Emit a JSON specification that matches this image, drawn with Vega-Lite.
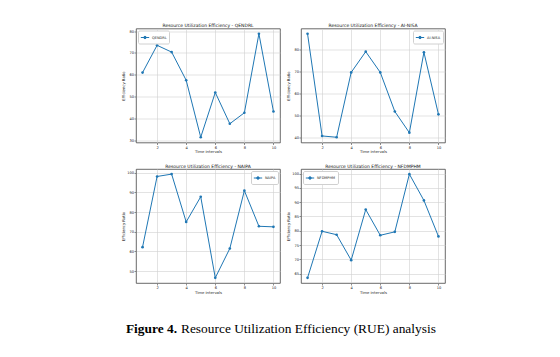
{
  "$schema": "https://vega.github.io/schema/vega-lite/v6.json",
  "background": "white",
  "padding": {"left": 120, "top": 22.5, "right": 5, "bottom": 5},
  "data": {"values": [
    {"method": "QENDRL", "t": 1, "v": 61.0}, {"method": "QENDRL", "t": 2, "v": 73.5}, {"method": "QENDRL", "t": 3, "v": 70.4},
    {"method": "QENDRL", "t": 4, "v": 57.5}, {"method": "QENDRL", "t": 5, "v": 31.4}, {"method": "QENDRL", "t": 6, "v": 51.9},
    {"method": "QENDRL", "t": 7, "v": 37.6}, {"method": "QENDRL", "t": 8, "v": 42.6}, {"method": "QENDRL", "t": 9, "v": 78.8},
    {"method": "QENDRL", "t": 10, "v": 43.2},
    {"method": "AI-NISA", "t": 1, "v": 87.4}, {"method": "AI-NISA", "t": 2, "v": 40.6}, {"method": "AI-NISA", "t": 3, "v": 40.0},
    {"method": "AI-NISA", "t": 4, "v": 69.7}, {"method": "AI-NISA", "t": 5, "v": 79.2}, {"method": "AI-NISA", "t": 6, "v": 69.7},
    {"method": "AI-NISA", "t": 7, "v": 51.8}, {"method": "AI-NISA", "t": 8, "v": 42.1}, {"method": "AI-NISA", "t": 9, "v": 78.9},
    {"method": "AI-NISA", "t": 10, "v": 50.5},
    {"method": "NAIPA", "t": 1, "v": 62.2}, {"method": "NAIPA", "t": 2, "v": 98.1}, {"method": "NAIPA", "t": 3, "v": 99.3},
    {"method": "NAIPA", "t": 4, "v": 75.0}, {"method": "NAIPA", "t": 5, "v": 87.8}, {"method": "NAIPA", "t": 6, "v": 46.6},
    {"method": "NAIPA", "t": 7, "v": 61.5}, {"method": "NAIPA", "t": 8, "v": 90.9}, {"method": "NAIPA", "t": 9, "v": 72.8},
    {"method": "NAIPA", "t": 10, "v": 72.5},
    {"method": "NFDMPHM", "t": 1, "v": 63.5}, {"method": "NFDMPHM", "t": 2, "v": 79.8}, {"method": "NFDMPHM", "t": 3, "v": 78.6},
    {"method": "NFDMPHM", "t": 4, "v": 69.7}, {"method": "NFDMPHM", "t": 5, "v": 87.4}, {"method": "NFDMPHM", "t": 6, "v": 78.4},
    {"method": "NFDMPHM", "t": 7, "v": 79.6}, {"method": "NFDMPHM", "t": 8, "v": 99.8}, {"method": "NFDMPHM", "t": 9, "v": 90.6},
    {"method": "NFDMPHM", "t": 10, "v": 78.0}
  ]},
  "spacing": 27,
  "vconcat": [
    {
      "columns": 2,
      "spacing": {"row": 8.5, "column": 4},
      "resolve": {"scale": {"color": "independent", "x": "independent", "y": "independent"}, "legend": {"color": "independent"}},
      "concat": [
        {
          "title": "Resource Utilization Efficiency - QENDRL",
          "width": 144, "height": 114,
          "transform": [{"filter": "datum.method === 'QENDRL'"}],
          "mark": {"type": "line", "strokeWidth": 1, "point": {"filled": true, "size": 7}},
          "encoding": {
            "x": {"field": "t", "type": "quantitative", "scale": {"domain": [0.55, 10.45], "nice": false, "zero": false}, "axis": {"values": [2, 4, 6, 8, 10], "title": "Time intervals"}},
            "y": {"field": "v", "type": "quantitative", "scale": {"domain": [29.0, 81.2], "nice": false, "zero": false}, "axis": {"values": [30, 40, 50, 60, 70, 80], "title": "Efficiency Ratio"}},
            "color": {"field": "method", "type": "nominal", "scale": {"range": ["#1f77b4"]}, "legend": {"orient": "top-left", "title": null}}
          }
        },
        {
          "title": "Resource Utilization Efficiency - AI-NISA",
          "width": 144, "height": 114,
          "transform": [{"filter": "datum.method === 'AI-NISA'"}],
          "mark": {"type": "line", "strokeWidth": 1, "point": {"filled": true, "size": 7}},
          "encoding": {
            "x": {"field": "t", "type": "quantitative", "scale": {"domain": [0.55, 10.45], "nice": false, "zero": false}, "axis": {"values": [2, 4, 6, 8, 10], "title": "Time intervals"}},
            "y": {"field": "v", "type": "quantitative", "scale": {"domain": [37.6, 89.8], "nice": false, "zero": false}, "axis": {"values": [40, 50, 60, 70, 80], "title": "Efficiency Ratio"}},
            "color": {"field": "method", "type": "nominal", "scale": {"range": ["#1f77b4"]}, "legend": {"orient": "top-right", "title": null}}
          }
        },
        {
          "title": "Resource Utilization Efficiency - NAIPA",
          "width": 144, "height": 114,
          "transform": [{"filter": "datum.method === 'NAIPA'"}],
          "mark": {"type": "line", "strokeWidth": 1, "point": {"filled": true, "size": 7}},
          "encoding": {
            "x": {"field": "t", "type": "quantitative", "scale": {"domain": [0.55, 10.45], "nice": false, "zero": false}, "axis": {"values": [2, 4, 6, 8, 10], "title": "Time intervals"}},
            "y": {"field": "v", "type": "quantitative", "scale": {"domain": [43.97, 101.9], "nice": false, "zero": false}, "axis": {"values": [50, 60, 70, 80, 90, 100], "title": "Efficiency Ratio"}},
            "color": {"field": "method", "type": "nominal", "scale": {"range": ["#1f77b4"]}, "legend": {"orient": "top-right", "title": null}}
          }
        },
        {
          "title": "Resource Utilization Efficiency - NFDMPHM",
          "width": 144, "height": 114,
          "transform": [{"filter": "datum.method === 'NFDMPHM'"}],
          "mark": {"type": "line", "strokeWidth": 1, "point": {"filled": true, "size": 7}},
          "encoding": {
            "x": {"field": "t", "type": "quantitative", "scale": {"domain": [0.55, 10.45], "nice": false, "zero": false}, "axis": {"values": [2, 4, 6, 8, 10], "title": "Time intervals"}},
            "y": {"field": "v", "type": "quantitative", "scale": {"domain": [61.7, 101.6], "nice": false, "zero": false}, "axis": {"values": [65, 70, 75, 80, 85, 90, 95, 100], "title": "Efficiency Ratio"}},
            "color": {"field": "method", "type": "nominal", "scale": {"range": ["#1f77b4"]}, "legend": {"orient": "top-left", "title": null}}
          }
        }
      ]
    },
    {
      "width": 120, "height": 10,
      "view": {"stroke": null},
      "data": {"values": [
        {"part": "bold", "label": "Figure 4."},
        {"part": "rest", "label": "Resource Utilization Efficiency (RUE) analysis"}
      ]},
      "layer": [
        {
          "transform": [{"filter": "datum.part === 'bold'"}],
          "mark": {"type": "text", "font": "Liberation Serif", "fontSize": 13.4, "fontWeight": "bold", "align": "right", "baseline": "middle", "dx": -19, "color": "black"},
          "encoding": {"text": {"field": "label"}}
        },
        {
          "transform": [{"filter": "datum.part === 'rest'"}],
          "mark": {"type": "text", "font": "Liberation Serif", "fontSize": 13.4, "align": "left", "baseline": "middle", "dx": -15, "color": "black"},
          "encoding": {"text": {"field": "label"}}
        }
      ]
    }
  ],
  "config": {
    "font": "DejaVu Sans",
    "view": {"stroke": "#444444", "strokeWidth": 0.8},
    "title": {"fontSize": 4.5, "fontWeight": "normal", "offset": 1, "color": "#111111", "anchor": "middle"},
    "axis": {
      "labelFontSize": 3.6, "titleFontSize": 3.8, "titleFontWeight": "normal", "titleColor": "#222222", "labelColor": "#222222",
      "tickSize": 2, "tickColor": "#444444", "tickWidth": 0.6, "labelPadding": 0.5, "domain": false,
      "gridColor": "#d0d0d0", "gridWidth": 0.6, "minExtent": 6, "maxExtent": 6, "titlePadding": 1
    },
    "axisY": {"minExtent": 8, "maxExtent": 8, "titlePadding": 3},
    "legend": {
      "fillColor": "white", "strokeColor": "#d0d0d0", "padding": 2, "cornerRadius": 1.5, "offset": 2,
      "labelFontSize": 3.5, "labelColor": "#222222", "labelOffset": 2,
      "symbolType": "M-1,0H1M-0.3,0A0.3,0.3,0,1,1,0.3,0A0.3,0.3,0,1,1,-0.3,0Z",
      "symbolSize": 70, "symbolStrokeWidth": 1, "symbolStrokeColor": "#1f77b4", "symbolFillColor": "#1f77b4"
    }
  }
}
